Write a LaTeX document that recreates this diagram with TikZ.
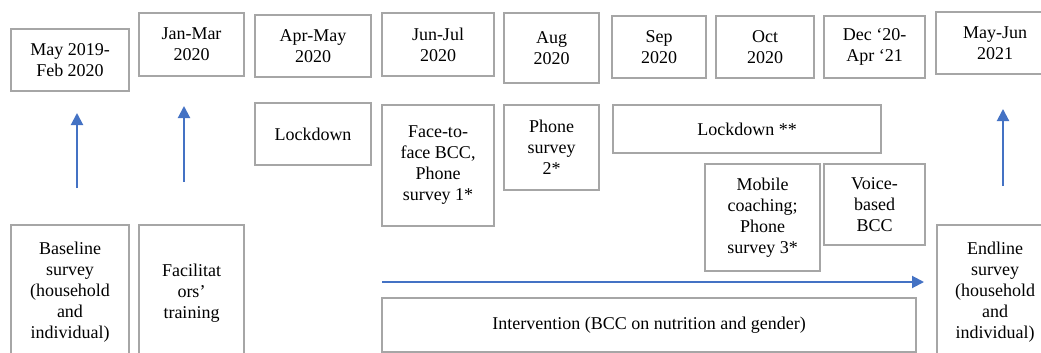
\documentclass[tikz,border=0pt]{standalone}
\usepackage{fontspec}
\setmainfont{Liberation Serif}
\usetikzlibrary{arrows.meta}
\definecolor{boxgray}{RGB}{166,166,166}
\definecolor{arrowblue}{RGB}{68,114,196}
\tikzset{
  box/.style={draw=boxgray, line width=2pt, inner sep=0pt, align=center,
    font=\fontsize{18}{21}\selectfont, text=black},
  uparrow/.style={draw=arrowblue, line width=2pt, -{Triangle[width=12pt,length=12pt]}},
}
\begin{document}
\begin{tikzpicture}[x=1pt,y=-1pt]
\useasboundingbox (0,0) rectangle (1041,353);
\clip (0,0) rectangle (1041,353);
% top row: dates
\node[box, minimum width=118pt, minimum height=62pt] (t1) at (70,60) {May 2019-\\Feb 2020};
\node[box, minimum width=105pt, minimum height=63pt] (t2) at (191.5,44.5) {Jan-Mar\\2020};
\node[box, minimum width=116pt, minimum height=62pt] (t3) at (313,46) {Apr-May\\2020};
\node[box, minimum width=112pt, minimum height=63pt] (t4) at (438,44.5) {Jun-Jul\\2020};
\node[box, minimum width=95pt, minimum height=70pt] (t5) at (551.5,48) {Aug\\2020};
\node[box, minimum width=94pt, minimum height=62pt] (t6) at (659,47) {Sep\\2020};
\node[box, minimum width=98pt, minimum height=62pt] (t7) at (765,47) {Oct\\2020};
\node[box, minimum width=101pt, minimum height=62pt] (t8) at (874.5,47) {Dec ‘20-\\Apr ‘21};
\node[box, minimum width=118pt, minimum height=62pt] (t9) at (995,43) {May-Jun\\2021};
% second row: events
\node[box, minimum width=116pt, minimum height=62pt] (lock1) at (313,134) {Lockdown};
\node[box, minimum width=112pt, minimum height=121pt] (f2f) at (438,165.5) {Face-to-\\face BCC,\\Phone\\survey 1*};
\node[box, minimum width=95pt, minimum height=85pt] (ph2) at (551.5,147.5) {Phone\\survey\\2*};
\node[box, minimum width=268pt, minimum height=48pt] (lock2) at (747,129) {Lockdown **};
\node[box, minimum width=115pt, minimum height=107pt] (mob) at (762.5,217.5) {Mobile\\coaching;\\Phone\\survey 3*};
\node[box, minimum width=101pt, minimum height=81pt] (voice) at (874.5,204.5) {Voice-\\based\\BCC};
% bottom row
\node[box, minimum width=118pt, minimum height=134pt] (base) at (70,292) {Baseline\\survey\\(household\\and\\individual)};
\node[box, minimum width=105pt, minimum height=136pt] (fac) at (191.5,293) {Facilitat\\ors’\\training};
\node[box, minimum width=534pt, minimum height=54pt] (interv) at (649,325) {Intervention (BCC on nutrition and gender)};
\node[box, minimum width=116pt, minimum height=134pt] (endl) at (995,292) {Endline\\survey\\(household\\and\\individual)};
% arrows
\coordinate (a1s) at (77,188); \coordinate (a1e) at (77,113);
\coordinate (a2s) at (184,182); \coordinate (a2e) at (184,106);
\coordinate (a3s) at (1003,186); \coordinate (a3e) at (1003,109);
\coordinate (hs) at (382,282); \coordinate (he) at (924,282);
\draw[uparrow] (a1s) -- (a1e);
\draw[uparrow] (a2s) -- (a2e);
\draw[uparrow] (a3s) -- (a3e);
\draw[uparrow] (hs) -- (he);
\end{tikzpicture}
\end{document}
